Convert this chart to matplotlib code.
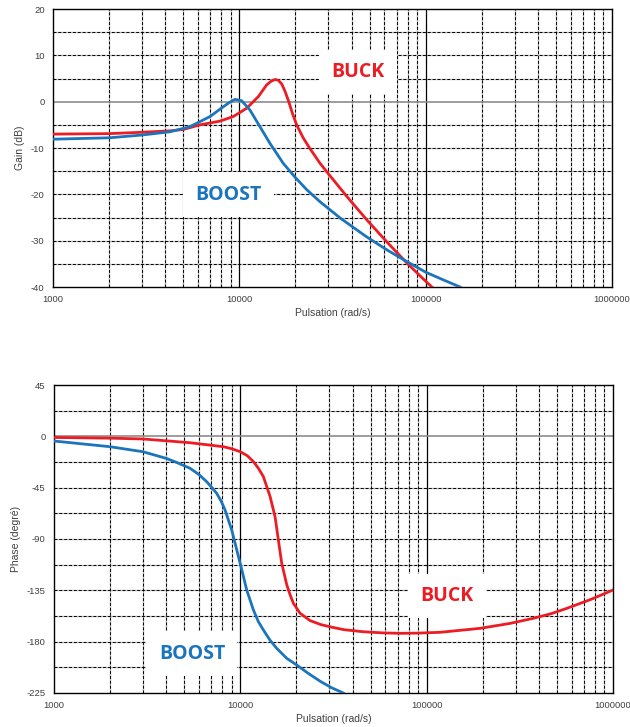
import numpy as np
import matplotlib.pyplot as plt
from matplotlib.ticker import FixedLocator, NullFormatter

# Gain (dB)
gain_buck_w = [1000, 2000, 3000, 4250, 5000, 6150, 7870, 9290, 10970, 12650,
               14000, 14800, 15560, 16200, 16900, 17600, 18350, 19300, 20300,
               22000, 24000, 27000, 30100, 38000, 48300, 62000, 79200, 95000, 108000]
gain_buck_db = [-7.0, -6.9, -6.6, -6.3, -6.0, -5.0, -4.2, -3.2, -1.4, 1.1,
                3.6, 4.4, 4.8, 4.6, 3.8, 2.2, 0.2, -2.6, -5.0,
                -7.8, -10.2, -13.2, -15.6, -20.6, -25.5, -30.3, -34.8, -37.9, -40.0]

gain_boost_w = [1000, 2000, 3000, 4250, 5430, 6970, 8200, 8900, 9490, 10300,
                11400, 12900, 14600, 17200, 19900, 23000, 27100, 35000,
                48300, 62000, 79200, 100000, 125000, 153000]
gain_boost_db = [-8.1, -7.8, -7.2, -6.5, -5.4, -3.2, -1.1, -0.1, 0.5, 0.2,
                 -1.8, -5.4, -9.0, -13.3, -16.3, -19.0, -21.6, -25.2,
                 -29.2, -32.0, -34.5, -36.8, -38.5, -40.0]

# Phase (deg)
phase_buck_w = [1000, 2000, 3000, 5370, 8110, 9000, 10000, 10900, 11760, 12500, 13300,
                14450, 15360, 16000, 16680, 17740, 18500, 19270, 20900, 23650, 27000,
                30300, 36000, 45700, 58000, 71900, 90000, 118000, 194000, 280000,
                374000, 465000, 565000, 760000, 1000000]
phase_buck_deg = [-1.0, -1.6, -2.3, -5.6, -9.1, -10.9, -13.5, -17.0, -22.2, -28.0, -35.4,
                  -52.9, -70.5, -90.9, -111.3, -130.0, -139.0, -146.4, -155.0, -161.5, -165.0,
                  -167.0, -169.5, -171.3, -172.3, -172.7, -172.5, -171.8, -168.3, -164.0,
                  -159.5, -155.5, -150.8, -143.0, -134.7]

phase_boost_w = [1000, 2000, 3000, 4000, 4600, 5370, 6000, 6600, 7000, 7470, 7900,
                 8280, 8990, 9570, 10190, 10820, 11750, 12500, 13300, 14400, 15670,
                 17740, 20100, 23000, 27000, 31000, 35700]
phase_boost_deg = [-4.1, -9.1, -13.5, -19.3, -23.2, -28.0, -33.5, -39.8, -44.5, -50.0, -57.0,
                   -64.6, -82.1, -99.6, -117.2, -134.7, -152.2, -162.5, -169.8, -178.5, -185.8,
                   -194.6, -200.5, -207.5, -215.0, -220.5, -225.0]

RED = '#ED1C24'
BLUE = '#1B75BC'

plt.rcParams['font.family'] = ['Liberation Sans', 'DejaVu Sans']
plt.rcParams['axes.unicode_minus'] = False

fig = plt.figure(figsize=(6.3, 7.27), dpi=100)
ax1 = fig.add_axes([53 / 630, 1 - 287 / 727, 559 / 630, 278 / 727])
ax2 = fig.add_axes([54 / 630, 1 - 693 / 727, 559 / 630, 308 / 727])

minor_x = [m * 10 ** e for e in (3, 4, 5) for m in range(2, 10)]
major_x = [1000, 10000, 100000, 1000000]


def style_axes(ax, yticks, ygrid, zero):
    ax.set_xscale('log')
    ax.set_xlim(1000, 1000000)
    ax.xaxis.set_major_locator(FixedLocator(major_x))
    ax.xaxis.set_minor_locator(FixedLocator(minor_x))
    ax.xaxis.set_minor_formatter(NullFormatter())
    ax.set_xticklabels([str(v) for v in major_x])
    ax.set_yticks(yticks)
    ax.tick_params(axis='both', which='both', labelsize=6.8, length=0, pad=6,
                   colors='#404040')
    for v in minor_x:
        ax.axvline(v, color='#b8b8b8', lw=1.0, zorder=0.5)
        ax.axvline(v, color='black', lw=0.7, ls=(0, (3, 2)), zorder=0.6)
    for v in major_x[1:-1]:
        ax.axvline(v, color='black', lw=0.9, zorder=0.6)
    for v in ygrid:
        if v == zero:
            ax.axhline(v, color='#8c8c8c', lw=1.2, zorder=0.6)
        else:
            ax.axhline(v, color='#b8b8b8', lw=1.0, zorder=0.5)
            ax.axhline(v, color='black', lw=0.7, ls=(0, (3, 2)), zorder=0.6)
    for s in ax.spines.values():
        s.set_linewidth(1.0)
        s.set_color('black')


lbl = dict(fontsize=14, fontweight='bold', family=['Open Sans', 'DejaVu Sans'],
           ha='center', va='center', zorder=4)
box = dict(facecolor='white', edgecolor='none', pad=9)

# top: gain
style_axes(ax1, np.arange(-40, 21, 10), np.arange(-35, 20, 5), 0)
ax1.set_ylim(-40, 20)
ax1.plot(gain_buck_w, gain_buck_db, color=RED, lw=2, zorder=3)
ax1.plot(gain_boost_w, gain_boost_db, color=BLUE, lw=2, zorder=3)
ax1.set_ylabel('Gain (dB)', fontsize=7.5, color='#404040')
ax1.set_xlabel('Pulsation (rad/s)', fontsize=7.5, color='#404040', labelpad=3)
ax1.text(10 ** 4.637, 6.4, 'BUCK', color=RED, bbox=box, **lbl)
ax1.text(10 ** 3.94, -20.1, 'BOOST', color=BLUE, bbox=box, **lbl)

# bottom: phase
style_axes(ax2, np.arange(-225, 46, 45), np.arange(-202.5, 45, 22.5), 0)
ax2.set_ylim(-225, 45)
ax2.plot(phase_buck_w, phase_buck_deg, color=RED, lw=2, zorder=3)
ax2.plot(phase_boost_w, phase_boost_deg, color=BLUE, lw=2, zorder=3)
ax2.set_ylabel('Phase (degré)', fontsize=7.5, color='#404040')
ax2.set_xlabel('Pulsation (rad/s)', fontsize=7.5, color='#404040', labelpad=3)
ax2.text(10 ** 5.11, -140, 'BUCK', color=RED, bbox=box, **lbl)
ax2.text(10 ** 3.74, -190.5, 'BOOST', color=BLUE, bbox=box, **lbl)

fig.savefig('out.png', dpi=100)
